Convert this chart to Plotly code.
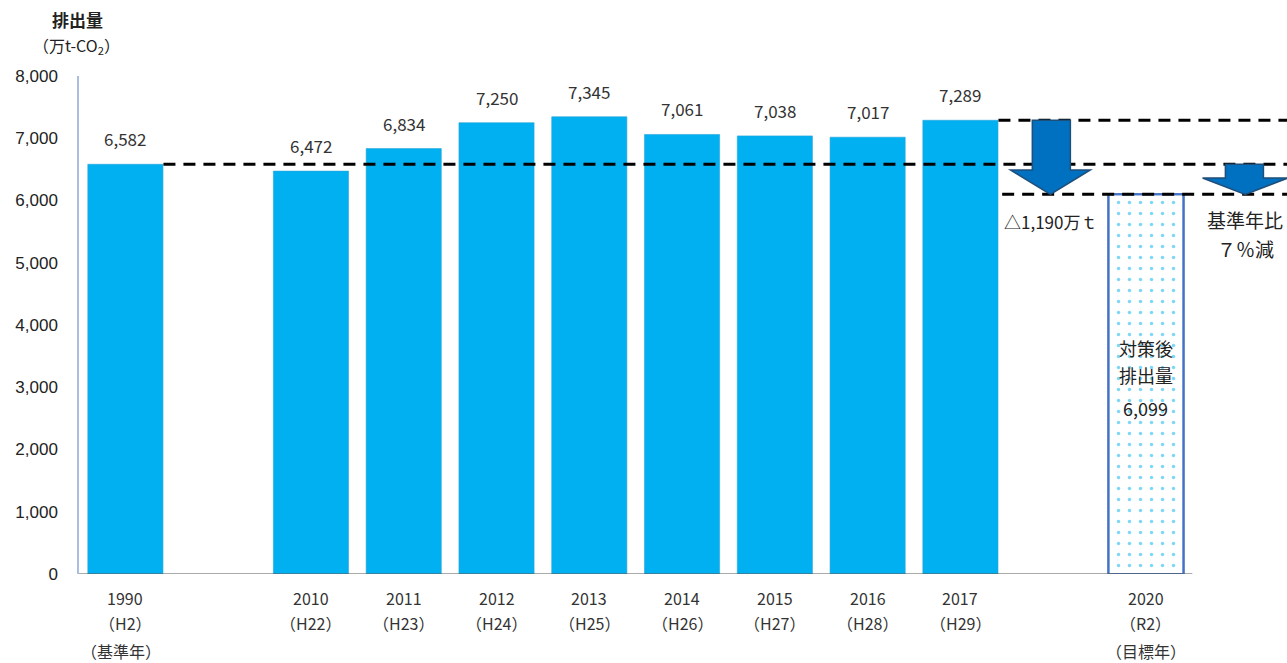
import plotly.graph_objects as go

# ---- data ----
years = ["1990", "2010", "2011", "2012", "2013", "2014", "2015", "2016", "2017"]
eras = ["（H2）", "（H22）", "（H23）", "（H24）", "（H25）", "（H26）", "（H27）", "（H28）", "（H29）"]
emissions = [6582, 6472, 6834, 7250, 7345, 7061, 7038, 7017, 7289]
positions = [0, 2, 3, 4, 5, 6, 7, 8, 9]
target_year = "2020"
target_era = "（R2）"
target_pos = 11
target_value = 6099
y_ticks = [0, 1000, 2000, 3000, 4000, 5000, 6000, 7000, 8000]

BAR = "#00B0F0"
FONT_JP = "Noto Sans CJK JP"
TXT = "#333333"

fig = go.Figure()
fig.add_trace(go.Bar(
    x=positions, y=emissions, width=0.81,
    marker=dict(color=BAR, line=dict(color="#2AA5D8", width=0.6)),
    hoverinfo="skip", showlegend=False,
))
fig.add_trace(go.Bar(
    x=[target_pos], y=[target_value], width=0.81,
    marker=dict(color="white",
                line=dict(color="#4472C4", width=2),
                pattern=dict(shape=".", fgcolor=BAR, bgcolor="white", size=11, solidity=0.08)),
    hoverinfo="skip", showlegend=False,
))

XMAX = 12.52
fig.update_layout(
    width=1287, height=663,
    margin=dict(l=79, r=0, t=76, b=89),
    plot_bgcolor="white", paper_bgcolor="white",
    xaxis=dict(range=[-0.5, XMAX], showticklabels=False, showgrid=False,
               zeroline=False, showline=False, ticks=""),
    yaxis=dict(range=[0, 8000], tickvals=y_ticks, tickformat=",",
               showgrid=False, zeroline=False, showline=True,
               linecolor="#A9BEE0", linewidth=1.5, ticks="",
               ticklabelstandoff=16,
               tickfont=dict(family="Liberation Sans", size=17, color="#222222")),
    bargap=0.19,
)

shapes = []
# target bar outline drawn crisply on top of the pattern
shapes.append(dict(type="rect", xref="x", yref="y", x0=target_pos - 0.405, x1=target_pos + 0.405,
                   y0=0, y1=target_value, line=dict(color="#4472C4", width=2), layer="above"))
# x axis line and ticks
shapes.append(dict(type="line", xref="x", yref="y", x0=-0.5, x1=11.5, y0=0, y1=0,
                   line=dict(color="#595959", width=1.2)))
for k in range(25):
    xv = -0.5 + 0.5 * k
    shapes.append(dict(type="line", xref="x", yref="y", ysizemode="pixel", yanchor=0,
                       x0=xv, x1=xv, y0=0, y1=-6, line=dict(color="#595959", width=1.2)))

# dashed reference lines
dash = "12px,8px"
shapes.append(dict(type="line", xref="x", yref="y", x0=0.41, x1=XMAX, y0=emissions[0], y1=emissions[0],
                   line=dict(color="black", width=3, dash=dash), layer="above"))
shapes.append(dict(type="line", xref="x", yref="y", x0=9.41, x1=XMAX, y0=emissions[-1], y1=emissions[-1],
                   line=dict(color="black", width=3, dash=dash), layer="above"))
shapes.append(dict(type="line", xref="x", yref="y", x0=9.45, x1=XMAX, y0=target_value, y1=target_value,
                   line=dict(color="black", width=3, dash=dash), layer="above"))

# arrows
def arrow(xl, xr, hl, hr, tip, ytop, yhead, ybot):
    return dict(type="path", xref="x", yref="y",
                path=(f"M {xl},{ytop} L {xr},{ytop} L {xr},{yhead} L {hr},{yhead} "
                      f"L {tip},{ybot} L {hl},{yhead} L {xl},{yhead} Z"),
                fillcolor="#0070C0", line=dict(color="#1F4E79", width=1.5), layer="above")

shapes.append(arrow(9.775, 10.185, 9.54, 10.40, 9.97, emissions[-1], 6490, target_value))
shapes.append(arrow(11.856, 12.266, 11.61, 12.53, 12.07, emissions[0], 6361, target_value))
fig.update_layout(shapes=shapes)

ann = []
# value labels
for p, v in zip(positions, emissions):
    ann.append(dict(x=p, y=v, xref="x", yref="y", text=f"{v:,}", showarrow=False,
                    yanchor="bottom", yshift=11,
                    font=dict(family=FONT_JP, size=17, color=TXT)))
# category labels
for p, yr, er in zip(positions + [target_pos], years + [target_year], eras + [target_era]):
    ann.append(dict(x=p, y=0, xref="x", yref="y", text=yr, showarrow=False,
                    yanchor="middle", yshift=-24, font=dict(family=FONT_JP, size=16, color=TXT)))
    ann.append(dict(x=p, y=0, xref="x", yref="y", text=er, showarrow=False,
                    yanchor="middle", yshift=-49, font=dict(family=FONT_JP, size=16, color=TXT)))
ann.append(dict(x=-0.05, y=0, xref="x", yref="y", text="（基準年）", showarrow=False,
                yanchor="middle", yshift=-77, font=dict(family=FONT_JP, size=16, color=TXT)))
ann.append(dict(x=target_pos, y=0, xref="x", yref="y", text="（目標年）", showarrow=False,
                yanchor="middle", yshift=-77, font=dict(family=FONT_JP, size=16, color=TXT)))

# text inside target bar
for t, yv in [("対策後", 3630), ("排出量", 3197), (f"{target_value:,}", 2667)]:
    ann.append(dict(x=target_pos, y=yv, xref="x", yref="y", text=t, showarrow=False,
                    yanchor="middle", font=dict(family=FONT_JP, size=18, color="#222222")))

# arrow notes
ann.append(dict(x=9.97, y=5655, xref="x", yref="y", text="△1,190万ｔ", showarrow=False,
                yanchor="middle", font=dict(family=FONT_JP, size=17, color="#222222")))
ann.append(dict(x=12.07, y=5700, xref="x", yref="y", text="基準年比", showarrow=False,
                yanchor="middle", font=dict(family=FONT_JP, size=19, color="#222222")))
ann.append(dict(x=12.07, y=5237, xref="x", yref="y", text="７％減", showarrow=False,
                yanchor="middle", font=dict(family=FONT_JP, size=19, color="#222222")))

# axis title
ann.append(dict(x=(77 - 79) / 1208, y=(574 - 20) / 498, xref="paper", yref="paper",
                xanchor="center", text="<b>排出量</b>", showarrow=False, yanchor="middle",
                font=dict(family=FONT_JP, size=17, color="#222222")))
ann.append(dict(x=(76 - 79) / 1208, y=(574 - 46) / 498, xref="paper", yref="paper",
                xanchor="center", text="（万t-CO<sub>2</sub>）", showarrow=False, yanchor="middle",
                font=dict(family=FONT_JP, size=16, color="#222222")))
fig.update_layout(annotations=ann)

fig.write_html("out.html")
